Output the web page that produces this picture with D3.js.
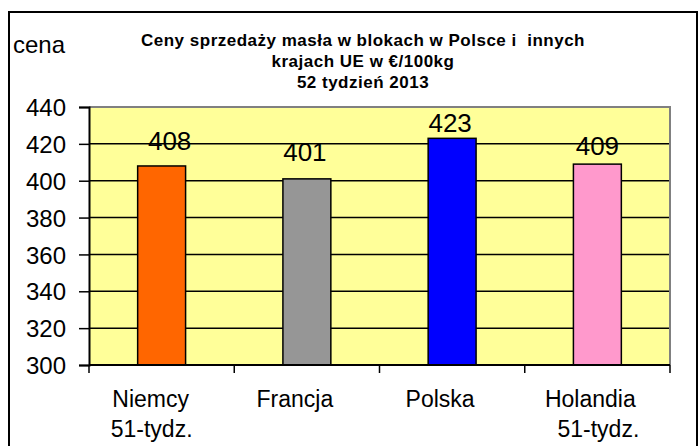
<!DOCTYPE html>
<html>
<head>
<meta charset="UTF-8">
<script src="https://d3js.org/d3.v7.min.js"></script>
<style>
  body { margin: 0; background: #fff; }
  text { font-family: "Liberation Sans", Arial, sans-serif; fill: #000; }
</style>
</head>
<body>
<div id="chart"></div>
<script>
// data
var countries = ["Niemcy", "Francja", "Polska", "Holandia"];
var notes = ["51-tydz.", "", "", "51-tydz."];
var prices = [408, 401, 423, 409];
var colors = ["#FF6600", "#969696", "#0000FF", "#FF99CC"];
var yTicks = [300, 320, 340, 360, 380, 400, 420, 440];
var titleLines = ["Ceny sprzedaży masła w blokach w Polsce i  innych", "krajach UE w €/100kg", "52 tydzień 2013"];

var W = 700, H = 446;
var pLeft = 89, pRight = 670, pTop = 107, pBottom = 365;

// label nudges (Excel had them dragged around a bit)
var lift = [16, 18, 6, 9];
var liftDx = [8, -2, -2, 0];
var catDx = [-11, -12, -12, -7];
var noteDx = [-10, 0, 0, 1];

var svg = d3.select("#chart").append("svg")
  .attr("width", W).attr("height", H);

svg.append("rect").attr("width", W).attr("height", H).attr("fill", "#fff");

// outer frame
svg.append("rect")
  .attr("x", 9).attr("y", 12)
  .attr("width", 688).attr("height", 440)
  .attr("fill", "none").attr("stroke", "#000").attr("stroke-width", 2);

var x = d3.scaleBand()
  .domain(countries)
  .range([pLeft, pRight])
  .paddingInner(0.67)
  .paddingOuter(0.335);

var y = d3.scaleLinear()
  .domain([300, 440])
  .range([pBottom, pTop]);

// plot area
svg.append("rect")
  .attr("x", pLeft).attr("y", pTop)
  .attr("width", pRight - pLeft).attr("height", pBottom - pTop)
  .attr("fill", "#FFFF99");

// gridlines
svg.append("g").selectAll("line")
  .data(yTicks.filter(function(d) { return d > 300 && d < 440; }))
  .enter().append("line")
    .attr("x1", pLeft).attr("x2", pRight)
    .attr("y1", function(d) { return y(d); })
    .attr("y2", function(d) { return y(d); })
    .attr("stroke", "#000").attr("stroke-width", 1.5);

// grey border top + right
svg.append("path")
  .attr("d", "M" + pLeft + "," + y(440) + "H" + pRight + "V" + pBottom)
  .attr("fill", "none").attr("stroke", "#808080").attr("stroke-width", 2);

// bars
svg.append("g").selectAll("rect")
  .data(prices)
  .enter().append("rect")
    .attr("x", function(d, i) { return x(countries[i]); })
    .attr("y", function(d) { return y(d); })
    .attr("width", x.bandwidth())
    .attr("height", function(d) { return y(300) - y(d); })
    .attr("fill", function(d, i) { return colors[i]; })
    .attr("stroke", "#000").attr("stroke-width", 1.5);

// value labels
svg.append("g").selectAll("text")
  .data(prices)
  .enter().append("text")
    .attr("x", function(d, i) { return x(countries[i]) + x.bandwidth() / 2 + liftDx[i]; })
    .attr("y", function(d, i) { return y(d) - lift[i]; })
    .attr("text-anchor", "middle")
    .style("font-size", "26px")
    .text(function(d) { return d; });

// y axis
var yAxis = d3.axisLeft(y).tickValues(yTicks).tickSize(10).tickPadding(13);
var gy = svg.append("g").attr("transform", "translate(" + pLeft + ",0)").call(yAxis);
gy.select(".domain").attr("stroke", "#000").attr("stroke-width", 2);
gy.selectAll(".tick line").attr("stroke", "#000").attr("stroke-width", 1.5);
gy.selectAll(".tick text")
  .attr("dy", "0.36em")
  .style("font-size", "24px")
  .style("font-family", '"Liberation Sans", Arial, sans-serif');

// x axis line + ticks at category borders
svg.append("line")
  .attr("x1", pLeft).attr("x2", pRight)
  .attr("y1", pBottom).attr("y2", pBottom)
  .attr("stroke", "#000").attr("stroke-width", 2);

var borders = countries.map(function(c) { return x(c) + x.bandwidth() / 2 - x.step() / 2; });
borders.push(pRight);
svg.append("g").selectAll("line")
  .data(borders)
  .enter().append("line")
    .attr("x1", function(d) { return d; }).attr("x2", function(d) { return d; })
    .attr("y1", pBottom).attr("y2", pBottom + 8)
    .attr("stroke", "#000").attr("stroke-width", 1.5);

// category labels
var cat = svg.append("g").selectAll("g")
  .data(countries)
  .enter().append("g");
cat.append("text")
  .attr("x", function(d, i) { return x(d) + x.bandwidth() / 2 + catDx[i]; })
  .attr("y", 407)
  .attr("text-anchor", "middle")
  .style("font-size", "23px")
  .text(function(d) { return d; });
cat.append("text")
  .attr("x", function(d, i) { return x(d) + x.bandwidth() / 2 + noteDx[i]; })
  .attr("y", 437)
  .attr("text-anchor", "middle")
  .style("font-size", "23px")
  .text(function(d, i) { return notes[i]; });

// axis title
svg.append("text")
  .attr("x", 13).attr("y", 53)
  .style("font-size", "24px")
  .text("cena");

// chart title
svg.append("g").selectAll("text")
  .data(titleLines)
  .enter().append("text")
    .attr("x", 363)
    .attr("y", function(d, i) { return 46 + i * 21; })
    .attr("text-anchor", "middle")
    .style("font-size", "17px")
    .style("font-weight", "bold")
    .style("letter-spacing", "0.5px")
    .style("white-space", "pre")
    .text(function(d) { return d; });
</script>
</body>
</html>
